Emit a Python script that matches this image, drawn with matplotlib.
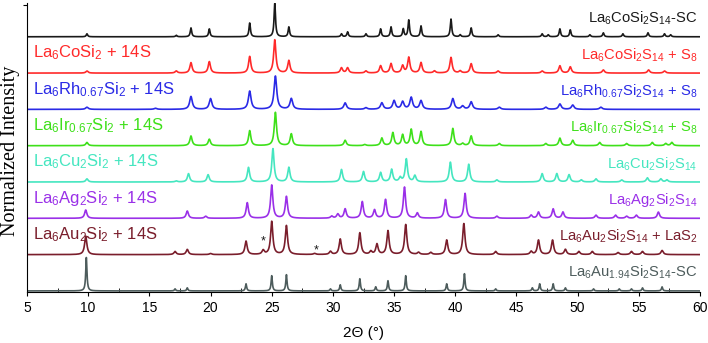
import matplotlib.pyplot as plt
import numpy as np
from matplotlib.ticker import MultipleLocator

plt.rcParams['font.family'] = 'Liberation Sans'
plt.rcParams['mathtext.fontset'] = 'custom'
plt.rcParams['mathtext.rm'] = 'Liberation Sans'
plt.rcParams['mathtext.it'] = 'Liberation Sans:italic'
plt.rcParams['mathtext.bf'] = 'Liberation Sans:bold'

# peak positions (2theta, deg) and heights (px in the figure)
co_sc_pos = [9.9, 17.2, 18.4, 19.9, 23.2, 25.25, 26.4, 30.7, 31.2, 32.7, 33.9, 34.75, 35.75, 36.2,
             37.2, 39.65, 40.4, 41.3, 43.5, 47.1, 47.6, 48.55, 49.4, 51.0, 52.1, 53.7, 55.75, 57.1, 57.6]
co_sc_int = [3, 1.5, 9, 8, 14, 34, 10, 3, 5, 3, 8, 10, 8, 17,
             11, 18, 2, 9, 2, 3, 2, 8, 7, 2, 4, 3, 4, 3, 2]

co_pos = [9.9, 17.2, 18.4, 19.9, 23.2, 25.25, 26.4, 30.7, 31.2, 32.7, 33.9, 34.75, 35.7, 36.2,
          37.2, 38.3, 39.65, 40.4, 41.3, 43.5, 47.1, 48.55, 49.4, 52.1, 55.8, 57.1]
co_int = [2, 2, 10, 11, 16, 32, 12, 5, 5, 2, 7, 9, 7, 15,
          10, 2, 15, 2, 9, 2, 2, 7, 6, 3, 3, 2]

rh_pos = [9.9, 15.5, 18.4, 20.0, 23.2, 25.3, 26.6, 31.0, 32.7, 34.0, 35.0, 35.7, 36.4, 37.2,
          39.8, 40.6, 41.3, 43.6, 47.4, 48.55, 49.6, 51.9]
rh_int = [2, 1, 12, 10, 17, 31, 10, 6, 1.5, 6, 8, 7, 11, 8,
          10, 3, 7, 2, 2, 5, 4, 2]

ir_pos = [9.9, 18.4, 19.9, 23.2, 25.3, 26.6, 31.0, 32.6, 34.0, 34.9, 35.7, 36.4, 37.2, 39.8,
          40.6, 41.3, 43.6, 47.4, 48.55, 49.6, 51.8, 54.0, 56.1, 57.2, 57.7]
ir_int = [3, 9, 6, 14, 31, 11, 5, 1, 7, 12, 10, 15, 13, 16,
          2, 9, 2, 2, 7, 5, 3, 2, 3, 2, 3]

cu_pos = [9.9, 17.2, 18.2, 19.8, 23.1, 25.1, 26.4, 30.7, 32.5, 33.9, 34.8, 35.5, 36.0, 36.7,
          39.6, 41.1, 43.4, 47.1, 48.3, 49.3, 50.3, 51.5, 53.6, 55.7, 56.8, 57.3]
cu_int = [3, 1, 8, 7, 14, 32, 14, 12, 10, 9, 12, 4, 22, 6,
          19, 17, 2, 8, 8, 7, 2, 3, 2, 4, 3, 2]

ag_pos = [9.8, 18.1, 19.6, 23.0, 25.0, 26.2, 29.9, 30.4, 31.0, 32.4, 33.4, 34.3, 35.85, 36.9,
          39.2, 40.8, 43.4, 46.2, 46.8, 48.0, 48.8, 51.5, 53.1, 54.0, 54.8, 56.6]
ag_int = [8, 7, 2, 15, 32, 21, 2, 4, 9, 16, 8, 18, 30, 5,
          18, 24, 2, 3, 6, 9, 6, 3, 3, 2, 3, 6]

au_pos = [9.8, 17.1, 18.1, 20.0, 22.9, 24.3, 25.0, 26.2, 28.5, 29.8, 30.6, 32.2, 33.1, 33.6,
          34.5, 35.95, 37.0, 38.0, 39.3, 40.7, 43.3, 46.2, 46.8, 47.95, 49.0, 50.1, 51.2, 53.3,
          54.4, 55.3, 56.9]
au_int = [18, 3, 5, 1, 13, 4, 32, 28, 1, 3, 15, 21, 3, 10,
          23, 29, 2, 2, 14, 30, 3, 3, 14, 14, 5, 3, 3, 2,
          3, 3, 4]

au_sc_pos = [9.85, 17.1, 18.1, 22.9, 25.0, 26.2, 29.8, 30.6, 32.2, 33.5, 34.5, 35.95, 39.3, 40.75,
             43.3, 46.3, 46.9, 48.0, 49.0, 51.3, 53.4, 54.4, 55.3, 56.9]
au_sc_int = [33, 2, 3, 7, 15, 16, 2, 6, 12, 4, 10, 15, 7, 17,
             2, 3, 7, 7, 3, 2, 2, 2, 3, 4]

left_labels = ['', r'La$_6$CoSi$_2$ + 14S', r'La$_6$Rh$_{0.67}$Si$_2$ + 14S', r'La$_6$Ir$_{0.67}$Si$_2$ + 14S',
               r'La$_6$Cu$_2$Si$_2$ + 14S', r'La$_6$Ag$_2$Si$_2$ + 14S', r'La$_6$Au$_2$Si$_2$ + 14S', '']
right_labels = [r'La$_6$CoSi$_2$S$_{14}$-SC', r'La$_6$CoSi$_2$S$_{14}$ + S$_8$', r'La$_6$Rh$_{0.67}$Si$_2$S$_{14}$ + S$_8$',
                r'La$_6$Ir$_{0.67}$Si$_2$S$_{14}$ + S$_8$', r'La$_6$Cu$_2$Si$_2$S$_{14}$', r'La$_6$Ag$_2$Si$_2$S$_{14}$',
                r'La$_6$Au$_2$Si$_2$S$_{14}$ + LaS$_2$', r'La$_6$Au$_{1.94}$Si$_2$S$_{14}$-SC']
colors = ['#1a1a1a', '#ff2a2a', '#2a2ae6', '#3ee01a', '#45e6c0', '#9a30e8', '#7a1e2c', '#4d5c5c']
peaks = [(co_sc_pos, co_sc_int), (co_pos, co_int), (rh_pos, rh_int), (ir_pos, ir_int),
         (cu_pos, cu_int), (ag_pos, ag_int), (au_pos, au_int), (au_sc_pos, au_sc_int)]
widths = [0.07, 0.11, 0.13, 0.11, 0.11, 0.11, 0.11, 0.06]

tt = np.arange(5, 60.001, 0.01)

fig = plt.figure(figsize=(7.08, 3.43), dpi=100)
ax = fig.add_axes([27 / 708, 1 - 292 / 343, 673 / 708, 289 / 343])

n = len(peaks)
for i, ((pos, hgt), c, w) in enumerate(zip(peaks, colors, widths)):
    off = n - 1 - i
    y = np.zeros_like(tt)
    for p, h in zip(pos, hgt):
        y += h / (1 + ((tt - p) / w) ** 2)
    y = 0.92 * y / y.max()
    ax.plot(tt, y + off, color=c, lw=1.2)
    if left_labels[i]:
        ax.text(5.5, off + 0.55, left_labels[i], color=c, fontsize=12, va='center', ha='left')
    ax.text(59.8, off + 0.5, right_labels[i], color=c, fontsize=10.6, va='center', ha='right')

# impurity markers on the Au pattern
ax.text(24.3, 1.36, '*', fontsize=9, ha='center', va='center', color='#1a1a1a')
ax.text(28.6, 1.12, '*', fontsize=9, ha='center', va='center', color='#1a1a1a')

ax.set_xlim(5, 60)
ax.set_ylim(-0.03, 7.93)
ax.spines['top'].set_visible(False)
ax.spines['right'].set_visible(False)
ax.xaxis.set_major_locator(MultipleLocator(5))
ax.xaxis.set_minor_locator(MultipleLocator(2.5))
ax.tick_params(axis='x', which='major', direction='out', length=3, labelsize=10)
ax.tick_params(axis='x', which='minor', direction='in', length=3)
ax.set_yticks([7.88])
ax.set_yticklabels([])
ax.tick_params(axis='y', direction='out', length=3)
ax.set_xlabel('2Θ (°)', fontsize=11, labelpad=8)
ax.set_ylabel('Normalized Intensity', fontsize=14.5, family='Liberation Serif')
ax.yaxis.set_label_coords(-0.011, 0.49)

fig.savefig('out.png', dpi=100)
